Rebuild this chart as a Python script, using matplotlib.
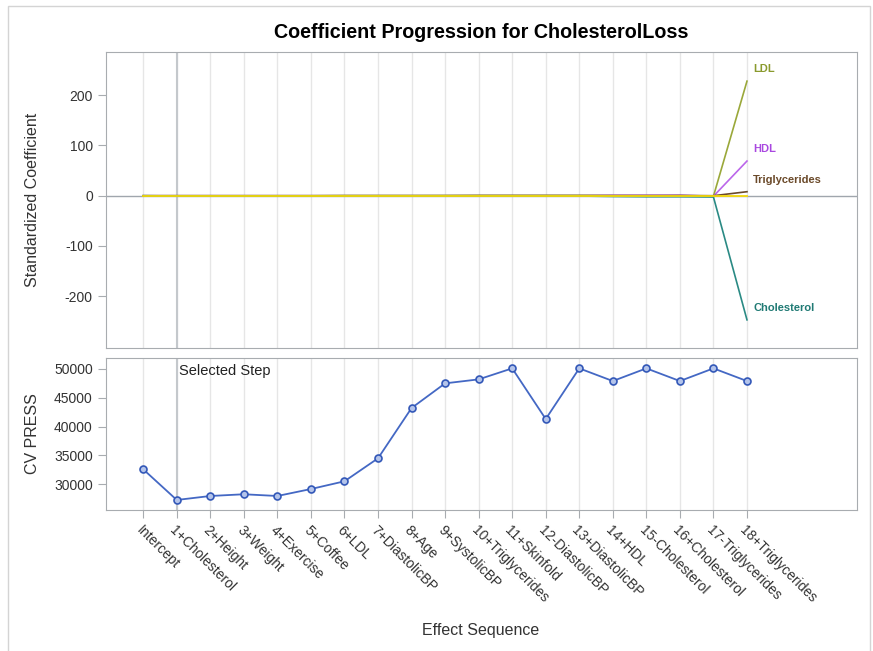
import numpy as np
import matplotlib
matplotlib.use('Agg')
import matplotlib.pyplot as plt
from matplotlib.patches import Rectangle

plt.rcParams['font.family'] = ['Liberation Sans', 'DejaVu Sans']
plt.rcParams['axes.unicode_minus'] = False

# Effect sequence (x axis)
effects = ['Intercept', '1+Cholesterol', '2+Height', '3+Weight', '4+Exercise',
           '5+Coffee', '6+LDL', '7+DiastolicBP', '8+Age', '9+SystolicBP',
           '10+Triglycerides', '11+Skinfold', '12-DiastolicBP', '13+DiastolicBP',
           '14+HDL', '15-Cholesterol', '16+Cholesterol', '17-Triglycerides',
           '18+Triglycerides']

# standardized coefficients per step
ldl_coef = [0, 0, 0, 0, 0, 0, 0.5, 0.5, 0.5, 0.6, 0.6, 0.6, 0.6, 0.6, 0.4, 0.3, -0.5, -1, 228]
hdl_coef = [0, 0, 0, 0, 0, 0, 0, 0, 0, 0, 0, 0, 0, 0, 0.8, 0.9, 1.0, -1, 69]
trig_coef = [0, 0, 0, 0, 0, 0, 0, 0, 0, 0, 0.3, 0.3, 0.3, 0.3, 0.2, 0.2, 0.5, 0, 8]
chol_coef = [0, -0.5, -0.5, -0.5, -0.5, -0.5, -0.6, -0.6, -0.6, -0.6, -0.6, -0.6, -0.6, -0.6,
             -1.5, -2, -2, -2.5, -247]
other_coef = [0] * 19

# CV PRESS per step
cv_press = [32600, 27280, 27970, 28270, 27970, 29180, 30520, 34510, 43230, 47510,
            48200, 50110, 41320, 50110, 47910, 50110, 47910, 50110, 47910]

coef_series = [
    ('LDL', ldl_coef, '#9aa83a', '#8a9a2e'),
    ('HDL', hdl_coef, '#bb66ea', '#a948e0'),
    ('Triglycerides', trig_coef, '#6b4a2a', '#6b4a2a'),
    ('Cholesterol', chol_coef, '#2a8a84', '#207a74'),
]

selected = 1
W, H = 873, 651
fig = plt.figure(figsize=(W / 100, H / 100), dpi=100)

gray = '#a8acb0'
txt = '#333333'
steps = np.arange(len(effects))

ax1 = fig.add_axes([106 / W, 1 - 348 / H, 751 / W, 296 / H])
ax2 = fig.add_axes([106 / W, 1 - 510 / H, 751 / W, 152 / H], sharex=ax1)

for ax in (ax1, ax2):
    for s in steps:
        ax.axvline(s, color='#e6e6e6', lw=1, zorder=0)
    ax.axvline(selected, color='#c4c8cc', lw=1.5, zorder=1)
    for sp in ax.spines.values():
        sp.set_color(gray)
    ax.tick_params(colors=gray, labelcolor=txt, labelsize=10, length=6)

# top panel: coefficient paths
ax1.axhline(0, color='#a0a6ad', lw=1, zorder=1)
for name, vals, lc, tc in coef_series:
    ax1.plot(steps, vals, color=lc, lw=1.2, zorder=2)
    ax1.annotate(name, (steps[-1], vals[-1]), xytext=(4.5, 8.5), textcoords='offset points',
                 color=tc, fontsize=8, fontweight='bold', ha='left', va='center')
ax1.plot(steps, other_coef, color='#f5d90a', lw=1.3, zorder=3)

ax1.set_ylim(-303, 286)
ax1.set_yticks([-200, -100, 0, 100, 200])
ax1.tick_params(axis='x', bottom=False, labelbottom=False)
ax1.set_ylabel('Standardized Coefficient', fontsize=11.5, color=txt)
ax1.yaxis.set_label_coords(-0.088, 0.5)

# bottom panel: CV PRESS
ax2.plot(steps, cv_press, color='#4468c4', lw=1.3, marker='o', ms=5,
         mfc='#b4c4ea', mec='#3358b8', mew=1.2, zorder=3)
ax2.set_ylim(25540, 51907)
ax2.set_yticks([30000, 35000, 40000, 45000, 50000])
ax2.set_xlim(-1.11, 21.28)
ax2.set_xticks(steps)
ax2.set_xticklabels(effects, rotation=-45, ha='left', va='top', rotation_mode='anchor')
ax2.set_ylabel('CV PRESS', fontsize=11.5, color=txt)
ax2.yaxis.set_label_coords(-0.088, 0.5)
ax2.text(selected + 0.08, 49700, 'Selected Step', fontsize=10.5, color='#222222',
         ha='left', va='center')

fig.text(481 / W, 1 - 33 / H, 'Coefficient Progression for CholesterolLoss',
         fontsize=14.2, fontweight='bold', ha='center', va='center')
fig.text(481 / W, 1 - 630 / H, 'Effect Sequence', fontsize=11.5, color=txt,
         ha='center', va='center')

fig.patches.append(Rectangle((8 / W, -0.02), 862 / W, 1 - 6 / H + 0.02,
                             transform=fig.transFigure, fill=False,
                             edgecolor='#d4d4d4', lw=1))

fig.savefig('out.png', dpi=100)
